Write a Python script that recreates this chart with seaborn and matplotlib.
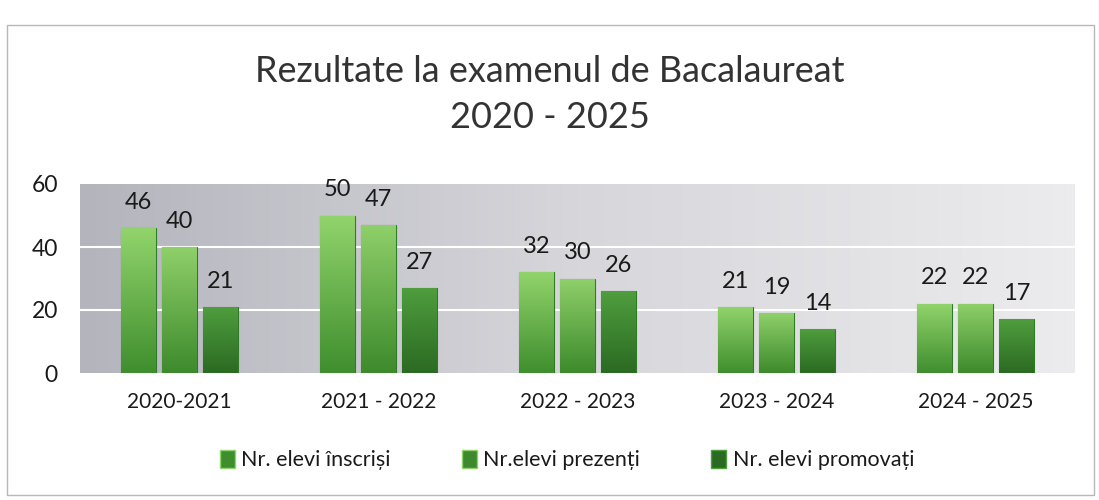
import numpy as np
import pandas as pd
import matplotlib
matplotlib.use("Agg")
import matplotlib.pyplot as plt
from matplotlib.colors import LinearSegmentedColormap
from matplotlib.patches import Patch, Rectangle
import seaborn as sns

# data
categories = ["2020-2021", "2021 - 2022", "2022 - 2023", "2023 - 2024", "2024 - 2025"]
series_names = ["Nr. elevi înscriși", "Nr.elevi prezenți", "Nr. elevi promovați"]
inscrisi = [46, 50, 32, 21, 22]
prezenti = [40, 47, 30, 19, 22]
promovati = [21, 27, 26, 14, 17]

# gradient colours (top, bottom) for each series
bar_grads = [("#92d46c", "#3f8e2e"), ("#8fd06a", "#3d8a2c"), ("#4f9e3e", "#2b6a22")]

df = pd.DataFrame({
    "year": categories * 3,
    "series": [s for s in series_names for _ in categories],
    "value": inscrisi + prezenti + promovati,
})

sns.set_theme(style="white")
plt.rcParams["font.family"] = ["Lato", "DejaVu Sans"]

fig = plt.figure(figsize=(10.99, 5), dpi=100)
fig.patch.set_facecolor("white")
# scanned chart border
fig.add_artist(Rectangle((7 / 1099, 5 / 500), 1087 / 1099, 470 / 500, transform=fig.transFigure,
                         fill=False, edgecolor="#b8b8b8", linewidth=1.0))

ax = fig.add_axes([80 / 1099, 1 - 373 / 500, 995 / 1099, 189 / 500])

sns.barplot(data=df, x="year", y="value", hue="series", hue_order=series_names,
            order=categories, width=0.62, gap=0.15, ax=ax, legend=False,
            palette=[g[1] for g in bar_grads], zorder=3)

# plot area background: gray horizontal gradient
bg = np.linspace(0, 1, 256).reshape(1, -1)
bg_cmap = LinearSegmentedColormap.from_list("bg", ["#b4b4bd", "#d6d6db", "#ececee"])
ax.imshow(bg, cmap=bg_cmap, extent=[0, 1, 0, 1], transform=ax.transAxes,
          aspect="auto", zorder=0)

for yv in [20, 40]:
    ax.axhline(yv, color="white", linewidth=1.5, zorder=1)

# gradient fill on each bar
for container, (top, bot) in zip(ax.containers, bar_grads):
    cmap = LinearSegmentedColormap.from_list("g", [bot, top])
    grad = np.linspace(0, 1, 256).reshape(-1, 1)
    for patch in container.patches:
        x0, y0 = patch.get_x(), patch.get_y()
        w, h = patch.get_width(), patch.get_height()
        im = ax.imshow(grad, cmap=cmap, extent=[x0, x0 + w, y0, y0 + h],
                       origin="lower", aspect="auto", zorder=3)
        im.set_clip_path(patch)
        patch.set_facecolor("none")
        patch.set_edgecolor("#2f7a24")
        patch.set_linewidth(0.8)
    ax.bar_label(container, padding=11, fontsize=17, color="#1a1a1a")

ax.set_xlim(-0.5, len(categories) - 0.5)
ax.set_ylim(0, 60)
ax.set_yticks([0, 20, 40, 60])
ax.tick_params(axis="y", labelsize=16.5, pad=16, length=0, colors="#1a1a1a")
ax.tick_params(axis="x", labelsize=15, pad=14, length=0, colors="#1a1a1a")
ax.set_xlabel("")
ax.set_ylabel("")
for s in ax.spines.values():
    s.set_visible(False)

fig.text(0.5, 1 - 72 / 500, "Rezultate la examenul de Bacalaureat", ha="center", va="center",
         fontsize=26, color="#333333")
fig.text(0.5, 1 - 118 / 500, "2020 - 2025", ha="center", va="center",
         fontsize=26, color="#333333")

handles = [Patch(facecolor=g[1], edgecolor=g[0]) for g in bar_grads]
fig.legend(handles, series_names, loc="center", bbox_to_anchor=(0.516, 1 - 460 / 500),
           ncol=3, frameon=False, fontsize=15.5, handlelength=0.7, handleheight=0.9,
           handletextpad=0.3, columnspacing=3.3, labelcolor="#1a1a1a")

fig.savefig("out.png", dpi=100)
